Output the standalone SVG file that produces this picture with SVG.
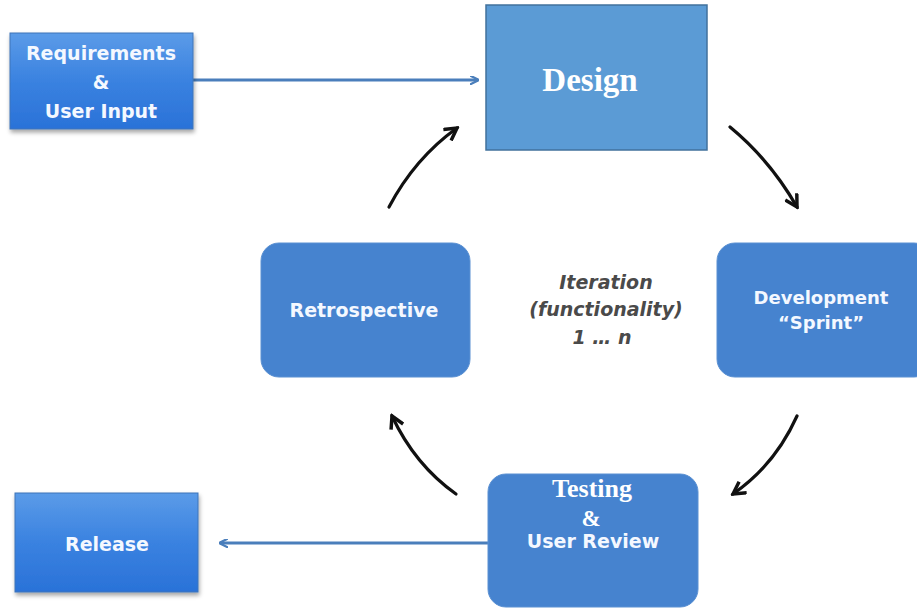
<svg xmlns="http://www.w3.org/2000/svg" width="917" height="609" viewBox="0 0 917 609">
  <defs>
    <linearGradient id="gBlue" x1="0" y1="0" x2="0" y2="1">
      <stop offset="0" stop-color="#5b9be8"/>
      <stop offset="0.5" stop-color="#3a82e0"/>
      <stop offset="1" stop-color="#2a72d8"/>
    </linearGradient>
    <filter id="shadow" x="-10%" y="-10%" width="125%" height="130%">
      <feDropShadow dx="1" dy="3" stdDeviation="2" flood-color="#000" flood-opacity="0.35"/>
    </filter>
    <marker id="blueHead" viewBox="0 0 10 10" refX="9" refY="5" markerWidth="9" markerHeight="9" orient="auto" markerUnits="userSpaceOnUse">
      <path d="M0,0 L10,5 L0,10" fill="none" stroke="#4a7ebb" stroke-width="2.5"/>
    </marker>
    <marker id="blackHead" viewBox="0 0 12 12" refX="10" refY="6" markerWidth="16" markerHeight="16" orient="auto" markerUnits="userSpaceOnUse">
      <path d="M1,1 L10,6 L1,11" fill="none" stroke="#111" stroke-width="2.6" stroke-linejoin="miter"/>
    </marker>
  </defs>
  <style>
    .sans { font-family: "DejaVu Sans", Verdana, sans-serif; font-weight: bold; fill: #f4f8ff; text-anchor: middle; }
    .serif { font-family: "Liberation Serif", "Times New Roman", serif; font-weight: bold; fill: #ffffff; text-anchor: middle; }
    .sq { fill: url(#gBlue); stroke: #3f74b8; stroke-width: 1; filter: url(#shadow); }
    .rnd { fill: #4683cf; stroke: #5a90d2; stroke-width: 1; }
    .flow { stroke: #4a7ebb; stroke-width: 3; fill: none; marker-end: url(#blueHead); }
    .cyc { stroke: #111; stroke-width: 3.2; fill: none; stroke-linecap: round; marker-end: url(#blackHead); }
    .note { font-family: "DejaVu Sans", Verdana, sans-serif; font-style: italic; font-weight: bold; font-size: 19px; fill: #4a4a4a; text-anchor: middle; }
  </style>

  <rect width="917" height="609" fill="#ffffff"/>

  <g id="connectors">
    <line class="flow" x1="193" y1="80" x2="478" y2="80"/>
    <line class="flow" x1="488" y1="543" x2="220" y2="543"/>
    <path class="cyc" d="M389,207 Q415,158 457,128"/>
    <path class="cyc" d="M730,127 Q770,160 797,207"/>
    <path class="cyc" d="M797,416 Q775,465 733,494"/>
    <path class="cyc" d="M456,494 Q415,465 392,416"/>
  </g>

  <g id="requirements">
    <rect class="sq" x="10" y="33" width="183" height="96"/>
    <text class="sans" x="101" y="60" font-size="19">Requirements</text>
    <text class="sans" x="101" y="89" font-size="19">&amp;</text>
    <text class="sans" x="101" y="118" font-size="19">User  Input</text>
  </g>

  <g id="design">
    <rect x="486" y="5" width="221" height="145" fill="#5b9bd5" stroke="#41719c" stroke-width="1.5"/>
    <text class="serif" x="590" y="91" font-size="33">Design</text>
  </g>

  <g id="development">
    <rect class="rnd" x="717" y="243" width="215" height="134" rx="18"/>
    <text class="sans" x="821" y="304" font-size="18">Development</text>
    <text class="sans" x="821" y="329" font-size="18">“Sprint”</text>
  </g>

  <g id="retrospective">
    <rect class="rnd" x="261" y="243" width="209" height="134" rx="18"/>
    <text class="sans" x="364" y="317" font-size="19">Retrospective</text>
  </g>

  <g id="testing">
    <rect class="rnd" x="488" y="474" width="210" height="133" rx="18"/>
    <text class="serif" x="592" y="497" font-size="26">Testing</text>
    <text class="serif" x="591" y="526" font-size="23">&amp;</text>
    <text class="sans" x="593" y="548" font-size="19">User Review</text>
  </g>

  <g id="release">
    <rect class="sq" x="15" y="493" width="183" height="99"/>
    <text class="sans" x="107" y="551" font-size="19">Release</text>
  </g>

  <g id="iteration">
    <text class="note" x="606" y="289">Iteration</text>
    <text class="note" x="606" y="316">(functionality)</text>
    <text class="note" x="602" y="344">1 … n</text>
  </g>
</svg>
